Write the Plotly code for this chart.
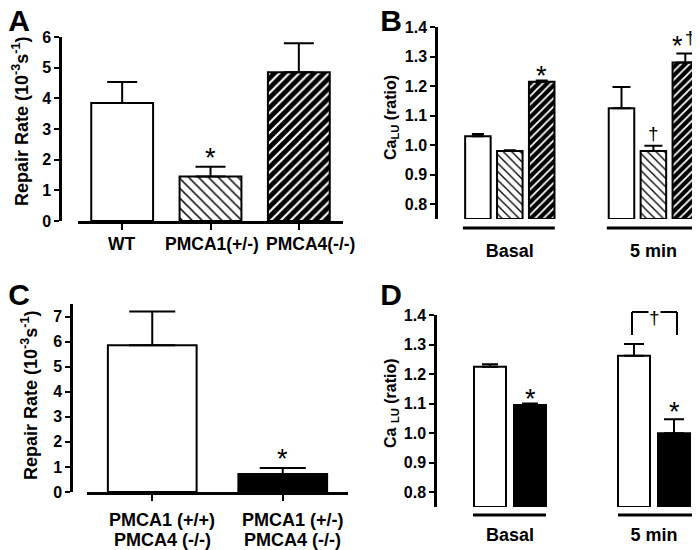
import plotly.graph_objects as go

# ---------------- data ----------------
a_cats = ["WT", "PMCA1(+/-)", "PMCA4(-/-)"]
a_vals = [3.85, 1.45, 4.85]
a_err = [0.68, 0.32, 0.95]

b_groups = ["Basal", "5 min"]
b_basal = [1.03, 0.98, 1.215]
b_basal_err = [0.008, 0.003, 0.004]
b_5min = [1.125, 0.98, 1.28]
b_5min_err = [0.072, 0.018, 0.030]

c_cats = ["PMCA1 (+/+)<br>PMCA4 (-/-)", "PMCA1 (+/-)<br>PMCA4 (-/-)"]
c_vals = [5.85, 0.72]
c_err = [1.35, 0.24]

d_groups = ["Basal", "5 min"]
d_basal = [1.225, 1.095]
d_basal_err = [0.008, 0.005]
d_5min = [1.262, 1.00]
d_5min_err = [0.040, 0.047]

# page body has an 8px margin: figure sized to fit the 700x550 window
OFF = 8
W, H = 700 - OFF, 550 - OFF
FONT = "Liberation Sans, Arial, sans-serif"


def px(x):
    return (x - OFF) / W


def py(y):
    return 1 - (y - OFF) / H


fig = go.Figure()

white = dict(color="white", shape="", fg="black", bg="white", sol=0.3)
hatch = dict(color="white", shape="\\", fg="black", bg="white", sol=0.22)
dark = dict(color="black", shape="/", fg="white", bg="black", sol=0.3)
solid = dict(color="black", shape="", fg="black", bg="black", sol=0.3)


def add_bars(xs, ys, errs, kinds, xa, ya, width, base=None, cap=8, psize=7):
    for x, y, e, k in zip(xs, ys, errs, kinds):
        marker = dict(color=k["color"], line=dict(color="black", width=2))
        if k["shape"]:
            marker["pattern"] = dict(shape=k["shape"], fgcolor=k["fg"], bgcolor=k["bg"],
                                     size=psize, solidity=k["sol"], fillmode="replace")
        fig.add_trace(go.Bar(
            x=[x], y=[y - base if base is not None else y], base=base,
            xaxis=xa, yaxis=ya, width=width, marker=marker,
            error_y=dict(type="data", array=[e], arrayminus=[0], symmetric=False,
                         color="black", thickness=2, width=cap),
            showlegend=False, hoverinfo="skip",
        ))


add_bars(a_cats, a_vals, a_err, [white, hatch, dark], "x", "y", 0.70, cap=15, psize=7)

b_pos1 = [0, 1, 2]
b_pos2 = [4.5, 5.5, 6.5]
add_bars(b_pos1, b_basal, b_basal_err, [white, hatch, dark], "x2", "y2", 0.8, base=0.75, cap=6, psize=6)
add_bars(b_pos2, b_5min, b_5min_err, [white, hatch, dark], "x2", "y2", 0.8, base=0.75, cap=9, psize=6)

add_bars(c_cats, c_vals, c_err, [white, solid], "x3", "y3", 0.68, cap=23)

d_pos1 = [0, 1]
d_pos2 = [3.6, 4.6]
add_bars(d_pos1, d_basal, d_basal_err, [white, solid], "x4", "y4", 0.8, base=0.75, cap=8)
add_bars(d_pos2, d_5min, d_5min_err, [white, solid], "x4", "y4", 0.8, base=0.75, cap=10)

tickfont = dict(family=FONT, size=16, color="black", weight="bold")
lblfont = dict(family=FONT, size=18, color="black", weight="bold")
lblfontA = dict(family=FONT, size=17.5, color="black", weight="bold")

common_y = dict(showgrid=False, zeroline=False, showline=True, linecolor="black", linewidth=2.5,
                ticks="outside", ticklen=5, tickwidth=2, tickcolor="black", tickfont=tickfont,
                automargin=False)

fig.update_layout(
    template="none",
    width=W, height=H, margin=dict(l=0, r=0, t=0, b=0, pad=0),
    paper_bgcolor="white", plot_bgcolor="white", barmode="overlay",
    xaxis=dict(domain=[px(78), px(343)], range=[-0.5, 2.5], anchor="y", showgrid=False, zeroline=False,
               showline=True, linecolor="black", linewidth=2.5, ticks="outside", ticklen=6, tickwidth=2,
               tickcolor="black", showticklabels=False, automargin=False, type="category"),
    yaxis=dict(domain=[py(221), py(37)], range=[0, 6], anchor="free", position=px(60),
               tickvals=[0, 1, 2, 3, 4, 5, 6], **common_y),
    xaxis2=dict(domain=[px(438), 1], range=[-1.25, 6.96], anchor="y2", showgrid=False, zeroline=False,
                showline=False, ticks="", tickvals=[1, 5.5], ticktext=b_groups, tickfont=lblfont,
                ticklabelstandoff=19, automargin=False, tickangle=0),
    yaxis2=dict(domain=[py(219), py(27)], range=[0.75, 1.4], anchor="x2",
                tickvals=[0.8, 0.9, 1.0, 1.1, 1.2, 1.3, 1.4], tickformat=".1f", **common_y),
    xaxis3=dict(domain=[px(87), px(348)], range=[-0.5, 1.5], anchor="y3", showgrid=False, zeroline=False,
                showline=True, linecolor="black", linewidth=2.5, ticks="outside", ticklen=6, tickwidth=2,
                tickcolor="black", showticklabels=False, automargin=False, type="category"),
    yaxis3=dict(domain=[py(492), py(304)], range=[0, 7.5], anchor="free", position=px(71),
                tickvals=[0, 1, 2, 3, 4, 5, 6, 7], **common_y),
    xaxis4=dict(domain=[px(437), 1], range=[-1.325, 5.25], anchor="y4", showgrid=False, zeroline=False,
                showline=False, ticks="", tickvals=[0.5, 4.1], ticktext=d_groups, tickfont=lblfont,
                ticklabelstandoff=15, automargin=False, tickangle=0),
    yaxis4=dict(domain=[py(507), py(315)], range=[0.75, 1.4], anchor="x4",
                tickvals=[0.8, 0.9, 1.0, 1.1, 1.2, 1.3, 1.4], tickformat=".1f", **common_y),
)

# category labels under panels A and C
a_shift = [0, 1, 12]
for i, cat in enumerate(a_cats):
    fig.add_annotation(text=cat, xref="x", yref="paper", x=i, y=py(244), xshift=a_shift[i],
                       showarrow=False, font=lblfontA, xanchor="center", yanchor="middle")
for i, cat in enumerate(c_cats):
    for k, line in enumerate(cat.split("<br>")):
        fig.add_annotation(text=line, xref="x3", yref="paper", x=i, y=py(520 + 20 * k), xshift=10,
                           showarrow=False, font=lblfont, xanchor="center", yanchor="middle")


def group_line(xa, x0, x1, ypix):
    fig.add_shape(type="line", xref=xa, yref="paper", x0=x0, x1=x1, y0=py(ypix), y1=py(ypix),
                  line=dict(color="black", width=3))

group_line("x2", -0.47, 2.41, 228)
group_line("x2", 4.04, 6.96, 228)
group_line("x4", -0.425, 1.4, 515)
group_line("x4", 3.2, 5.25, 515)

# significance bracket (panel D)
for (x0, y0, x1, y1) in [(3.55, 335, 3.55, 312), (3.55, 312, 4.675, 312), (4.675, 312, 4.675, 335)]:
    fig.add_shape(type="line", xref="x4", yref="paper", x0=x0, y0=py(y0), x1=x1, y1=py(y1),
                  line=dict(color="black", width=2))

starfont = dict(family=FONT, size=27, color="black")
dagfont = dict(family=FONT, size=19, color="black")


def mark(text, xa, ya, x, y, f, bg="rgba(0,0,0,0)"):
    fig.add_annotation(text=text, xref=xa, yref=ya, x=x, y=y, showarrow=False, font=f,
                       xanchor="center", yanchor="middle", bgcolor=bg, borderpad=0)

mark("*", "x", "y", 1, 2.05, starfont)
mark("*", "x2", "y2", 2, 1.235, starfont)
mark("†", "x2", "y2", 5.5, 1.04, dagfont)
mark("*", "x2", "y2", 6.25, 1.335, starfont)
mark("†", "x2", "y2", 6.66, 1.365, dagfont)
mark("*", "x3", "y3", 1, 1.3, starfont)
mark("*", "x4", "y4", 1, 1.115, starfont)
mark("*", "x4", "y4", 4.6, 1.07, starfont)
mark("†", "x4", "y4", 4.1, 1.39, dagfont, bg="white")

titlefont = dict(family=FONT, size=18, color="black", weight="bold")
titlefontB = dict(family=FONT, size=16, color="black", weight="bold")


def ytitle(text, xpix, ypix, f):
    fig.add_annotation(text=text, xref="paper", yref="paper", x=px(xpix), y=py(ypix), textangle=-90,
                       showarrow=False, font=f, xanchor="center", yanchor="middle")

ytitle("Repair Rate (10<sup>-3</sup>s<sup>-1</sup>)", 20, 122, titlefont)
ytitle("Ca<sub>LU</sub> (ratio)", 391, 118, titlefontB)
ytitle("Repair Rate (10<sup>-3</sup>s<sup>-1</sup>)", 29, 396, titlefont)
ytitle("Ca <sub>LU</sub> (ratio)", 391, 403, titlefontB)

panelfont = dict(family=FONT, size=30, color="black", weight="bold")
for letter, xp, yp in [("A", 19, 20), ("B", 391, 20), ("C", 19, 294), ("D", 391, 294)]:
    fig.add_annotation(text=letter, xref="paper", yref="paper", x=px(xp), y=py(yp), showarrow=False,
                       font=panelfont, xanchor="center", yanchor="middle", width=22, height=22)

fig.write_html("out.html")
